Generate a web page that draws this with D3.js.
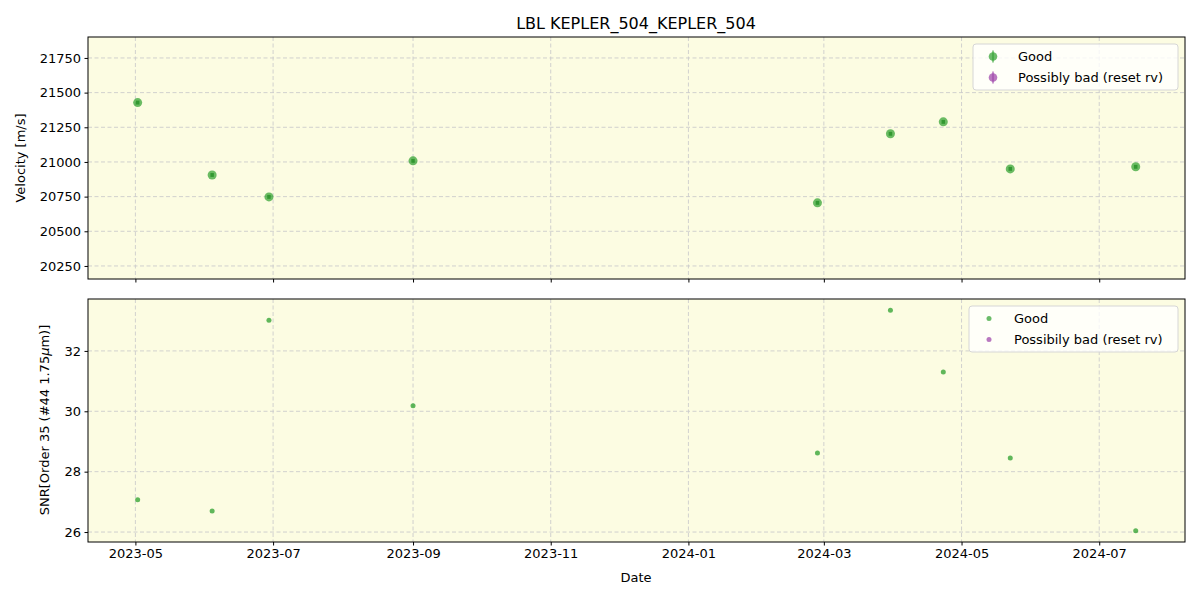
<!DOCTYPE html>
<html><head><meta charset="utf-8">
<script src="https://cdn.jsdelivr.net/npm/d3@7"></script>
<style>body{margin:0;background:#fff}svg{font-family:"DejaVu Sans",sans-serif}</style>
</head><body><svg id="c" width="1200" height="600"></svg>
<script>
const dates = ["2023-05-02T00","2023-06-04T00","2023-06-29T04","2023-09-01T00","2024-02-27T04","2024-03-30T12","2024-04-22T22","2024-05-22T14","2024-07-17T04"];
const velocity = [21428,20906,20748,21008,20705,21203,21289,20950,20965];
const velErr = [14,14,14,14,14,14,14,14,14];
const snr = [27.07,26.70,33.02,30.18,28.62,33.35,31.30,28.45,26.04];
const xTicks = ["2023-05","2023-07","2023-09","2023-11","2024-01","2024-03","2024-05","2024-07"];
const velTicks = [20250,20500,20750,21000,21250,21500,21750];
const snrTicks = [26,28,30,32];
const legendTop = ["Good","Possibly bad (reset rv)"];
const legendBot = ["Good","Possibily bad (reset rv)"];

const parse = d3.utcParse("%Y-%m-%dT%H");
const parseD = d3.utcParse("%Y-%m-%d");
const parseM = d3.utcParse("%Y-%m");
const svg = d3.select("#c");
const L=88,R=1185;
const green="#2ca02c", purple="#9b3fa8";
const x = d3.scaleUtc().domain([parseD("2023-04-10"),parseD("2024-08-08")]).range([L,R]);
const yV = d3.scaleLinear().domain([20156,21901]).range([279,37]);
const yS = d3.scaleLinear().domain([25.67,33.72]).range([542,299]);

function panel(y, top, bottom, ticks){
  svg.append("rect").attr("x",L).attr("y",top).attr("width",R-L).attr("height",bottom-top).attr("fill","#fcfce2");
  const g = svg.append("g");
  xTicks.forEach(t=>{const px=x(parseM(t));
    g.append("line").attr("x1",px).attr("x2",px).attr("y1",top).attr("y2",bottom).attr("stroke","#cccccc").attr("stroke-dasharray","4,2.5").attr("stroke-width",0.9);});
  ticks.forEach(t=>{const py=y(t);
    g.append("line").attr("x1",L).attr("x2",R).attr("y1",py).attr("y2",py).attr("stroke","#cccccc").attr("stroke-dasharray","4,2.5").attr("stroke-width",0.9);});
}
panel(yV,37,279,velTicks);
panel(yS,299,542,snrTicks);

// top points
const gt = svg.append("g");
dates.forEach((d,i)=>{
  const px=x(parse(d));
  gt.append("circle").attr("cx",px).attr("cy",yV(velocity[i])).attr("r",4.5).attr("fill",green).attr("opacity",0.7);
  gt.append("line").attr("x1",px).attr("x2",px).attr("y1",yV(velocity[i]-velErr[i])).attr("y2",yV(velocity[i]+velErr[i])).attr("stroke","#1d8a1d").attr("stroke-width",3.5).attr("opacity",0.7);
});
// bottom points
const gb = svg.append("g");
dates.forEach((d,i)=>{
  gb.append("circle").attr("cx",x(parse(d))).attr("cy",yS(snr[i])).attr("r",2.5).attr("fill",green).attr("opacity",0.75);
});

// axes
const xAxTop = d3.axisBottom(x).tickValues(xTicks.map(parseM)).tickSize(3.5).tickFormat("");
const xAxBot = d3.axisBottom(x).tickValues(xTicks.map(parseM)).tickSize(3.5).tickFormat(d3.utcFormat("%Y-%m")).tickPadding(3.5);
function style(g){g.selectAll("text").attr("font-size",13).attr("fill","#000").attr("font-family","DejaVu Sans");g.selectAll("line").attr("stroke","#000");g.select(".domain").remove();}
svg.append("g").attr("transform","translate(0,279)").call(xAxTop).call(style);
svg.append("g").attr("transform","translate(0,542)").call(xAxBot).call(style);
svg.append("g").attr("transform",`translate(${L},0)`).call(d3.axisLeft(yV).tickValues(velTicks).tickSize(3.5).tickPadding(3.5).tickFormat(d3.format("d"))).call(style);
svg.append("g").attr("transform",`translate(${L},0)`).call(d3.axisLeft(yS).tickValues(snrTicks).tickSize(3.5).tickPadding(3.5).tickFormat(d3.format("d"))).call(style);
[[37,279],[299,542]].forEach(([t,b])=>svg.append("rect").attr("x",L).attr("y",t).attr("width",R-L).attr("height",b-t).attr("fill","none").attr("stroke","#000").attr("stroke-width",1));

// labels
svg.append("text").attr("x",636).attr("y",29).attr("text-anchor","middle").attr("font-size",16).text("LBL KEPLER_504_KEPLER_504");
svg.append("text").attr("x",636).attr("y",582).attr("text-anchor","middle").attr("font-size",13).text("Date");
svg.append("text").attr("transform","translate(25,158) rotate(-90)").attr("text-anchor","middle").attr("font-size",13).text("Velocity [m/s]");
const st = svg.append("text").attr("transform","translate(49,420) rotate(-90)").attr("text-anchor","middle").attr("font-size",13);
st.append("tspan").text("SNR[Order 35 (#44 1.75");
st.append("tspan").attr("font-style","italic").text("μ");
st.append("tspan").text("m)]");

// legends
function legend(x0,y0,w,labels,errbar,r){
  svg.append("rect").attr("x",x0).attr("y",y0).attr("width",w).attr("height",46).attr("rx",3).attr("fill","#fff").attr("fill-opacity",0.8).attr("stroke","#d6d6d6");
  labels.forEach((lab,i)=>{
    const cy=y0+12.5+i*21, c=i?purple:green, mx=x0+20;
    if(errbar) svg.append("line").attr("x1",mx).attr("x2",mx).attr("y1",cy-6).attr("y2",cy+6).attr("stroke",c).attr("stroke-width",1.5).attr("opacity",0.7);
    svg.append("circle").attr("cx",mx).attr("cy",cy).attr("r",r).attr("fill",c).attr("opacity",0.7);
    svg.append("text").attr("x",x0+45).attr("y",cy+4.5).attr("font-size",13).text(lab);
  });
}
legend(973,44,205,legendTop,true,4.3);
legend(969,306,209,legendBot,false,2.5);
</script></body></html>
